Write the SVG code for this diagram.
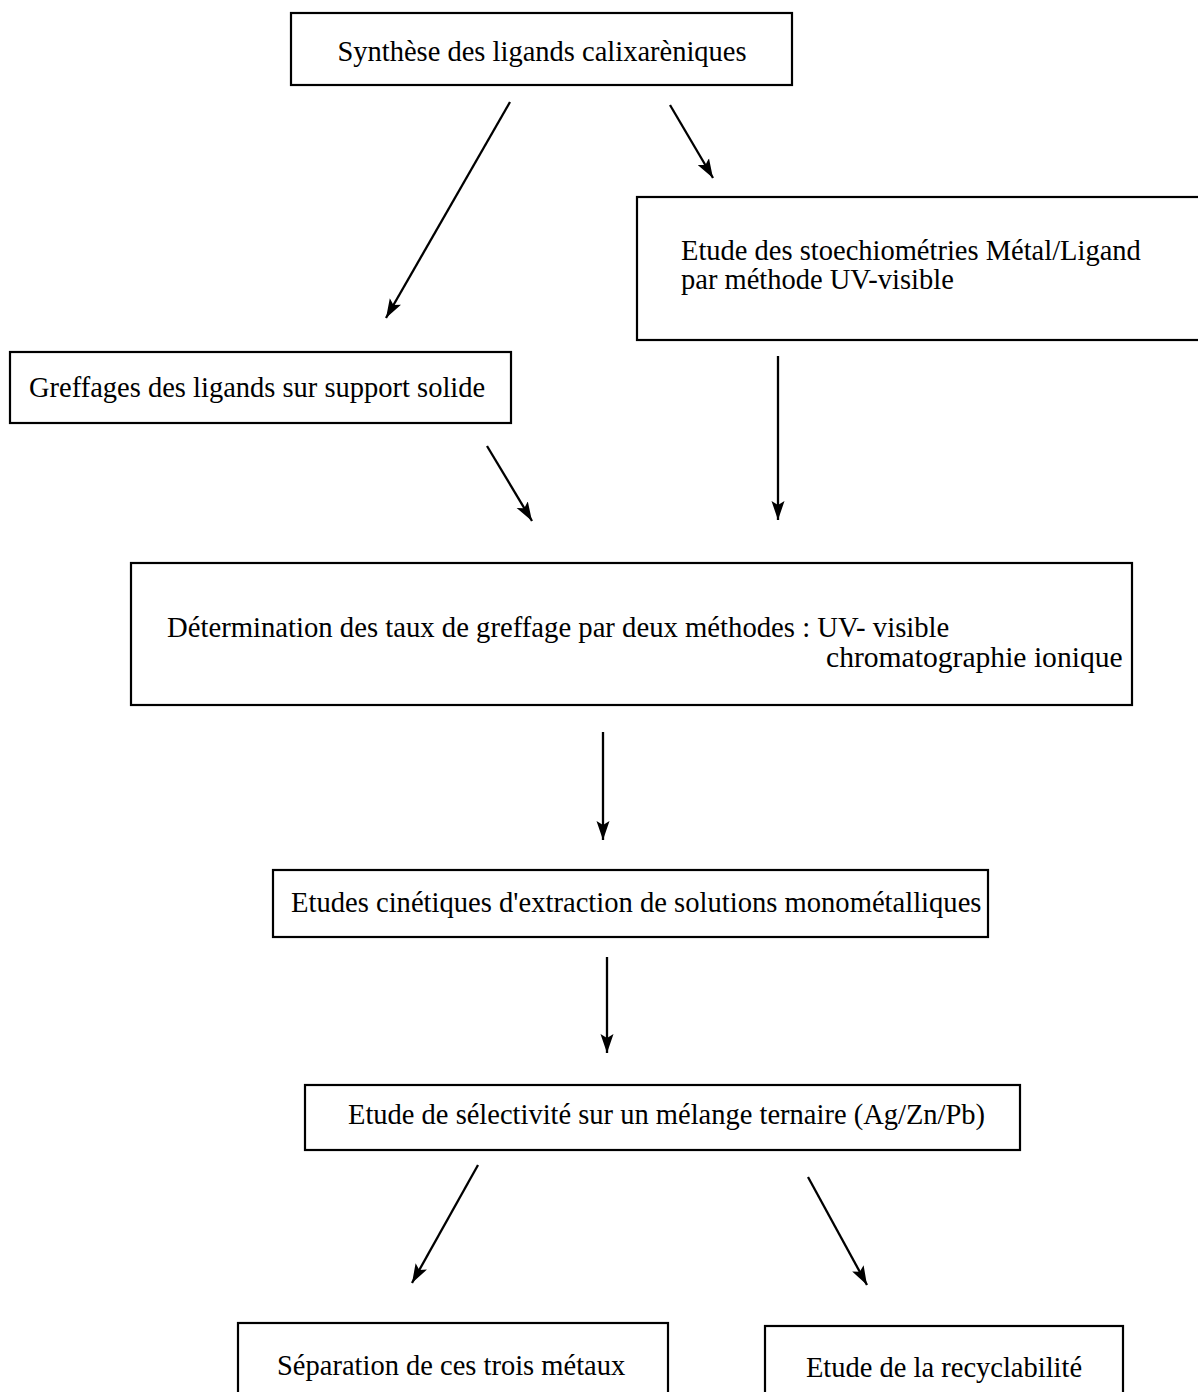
<svg xmlns="http://www.w3.org/2000/svg" width="1198" height="1392" viewBox="0 0 1198 1392">
<defs>
<marker id="ah" markerUnits="userSpaceOnUse" markerWidth="20" markerHeight="14" viewBox="0 0 20 14" refX="19" refY="7" orient="auto">
<path d="M0,0.5 L19,7 L0,13.5 L4,7 z" fill="#000"/>
</marker>
<style>
.box{fill:#fff;stroke:#000;stroke-width:2.2}
.t{font-family:"Liberation Serif","Times New Roman",serif;font-size:28.5px;fill:#000}
.c{stroke:#000;stroke-width:2.3;fill:none;marker-end:url(#ah)}
</style>
</defs>
<rect width="1198" height="1392" fill="#fff"/>
<g id="n1"><rect class="box" x="291" y="13" width="501" height="72"/><text class="t" x="542" y="61" text-anchor="middle">Synthèse des ligands calixarèniques</text></g>
<g id="n2"><rect class="box" x="637" y="197" width="580" height="143"/><text class="t" x="681" y="260">Etude des stoechiométries Métal/Ligand</text><text class="t" x="681" y="289">par méthode UV-visible</text></g>
<g id="n3"><rect class="box" x="10" y="352" width="501" height="71"/><text class="t" x="29" y="397">Greffages des ligands sur support solide</text></g>
<g id="n4"><rect class="box" x="131" y="563" width="1001" height="142"/><text class="t" x="167" y="637" style="font-size:28.7px">Détermination des taux de greffage par deux méthodes : UV- visible</text><text class="t" x="826" y="667" style="font-size:29.6px">chromatographie ionique</text></g>
<g id="n5"><rect class="box" x="273" y="870" width="715" height="67"/><text class="t" x="291" y="912" style="font-size:28.6px">Etudes cinétiques d'extraction de solutions monométalliques</text></g>
<g id="n6"><rect class="box" x="305" y="1085" width="715" height="65"/><text class="t" x="348" y="1124">Etude de sélectivité sur un mélange ternaire (Ag/Zn/Pb)</text></g>
<g id="n7"><rect class="box" x="238" y="1323" width="430" height="100"/><text class="t" x="277" y="1375">Séparation de ces trois métaux</text></g>
<g id="n8"><rect class="box" x="765" y="1326" width="358" height="100"/><text class="t" x="944" y="1377" text-anchor="middle">Etude de la recyclabilité</text></g>
<g id="connectors">
<line class="c" x1="510" y1="102" x2="386" y2="318"/>
<line class="c" x1="670" y1="105" x2="713" y2="178"/>
<line class="c" x1="487" y1="446" x2="532" y2="521"/>
<line class="c" x1="778" y1="356" x2="778" y2="520"/>
<line class="c" x1="603" y1="732" x2="603" y2="840"/>
<line class="c" x1="607" y1="957" x2="607" y2="1053"/>
<line class="c" x1="478" y1="1165" x2="412" y2="1283"/>
<line class="c" x1="808" y1="1177" x2="867" y2="1285"/>
</g>
</svg>
